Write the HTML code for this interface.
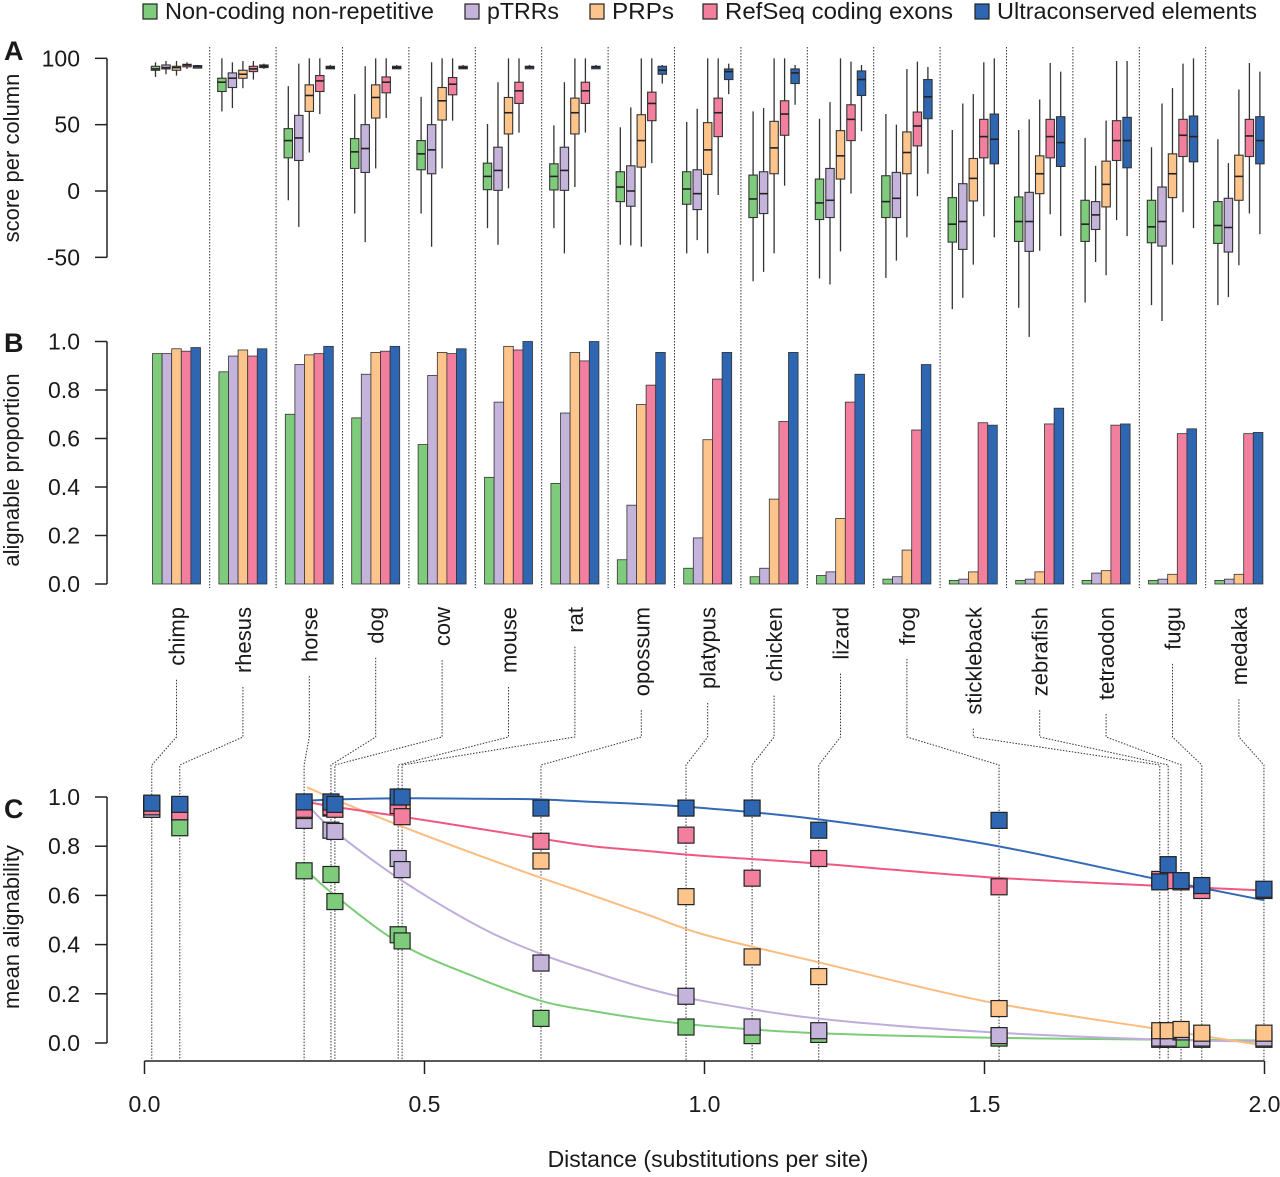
<!DOCTYPE html>
<html><head><meta charset="utf-8"><style>
html,body{margin:0;padding:0;background:#fff}
svg text{font-family:"Liberation Sans",Arial,sans-serif;fill:#1a1a1a}
</style></head><body>
<svg id="chart" width="1280" height="1172" viewBox="0 0 1280 1172" xmlns="http://www.w3.org/2000/svg">
<g id="legend"></g>
<g id="panelA"></g>
<g id="panelB"></g>
<g id="labels"></g>
<g id="panelC"></g>
</svg>
<script>
const species = ["chimp","rhesus","horse","dog","cow","mouse","rat","opossum","platypus","chicken","lizard","frog","stickleback","zebrafish","tetraodon","fugu","medaka"];
const seriesNames = ["Non-coding non-repetitive","pTRRs","PRPs","RefSeq coding exons","Ultraconserved elements"];
const distances = [0.013,0.063,0.285,0.333,0.340,0.453,0.460,0.708,0.967,1.085,1.204,1.526,1.813,1.828,1.851,1.888,1.999];
// Panel A boxes: [whiskerLow, q1, median, q3, whiskerHigh] per species per series
const boxNoncoding = [[86,91,92,94,97],[60,75,82,85,100],[-7,25,38,47,79],[-17,17,29.5,39.5,73],[-17,16,28,38,71],[-28,1,11,21,50.5],[-28,0.8,11,20.5,49.5],[-40.5,-8,3,14.5,48],[-47,-10,1.5,14.5,52],[-68,-20,-6,12,60],[-66,-21.5,-9,9,54.5],[-65.5,-20,-8,11.5,58],[-89,-38.5,-25,-5,46],[-88,-38,-23,-4.5,46],[-84,-38,-25,-7,40],[-86,-39,-27,-7,33],[-86,-39.5,-26,-8,39]];
const boxPTRR = [[88,92,93,95,98],[62.5,78,85,89,97],[-27,23,40,57,96],[-38.5,14,32,50,94],[-42,13,31,50,97],[-40.5,0.5,15.5,33,82],[-47,0.5,15.5,33,82],[-41,-11.5,0,19,63],[-37,-14,-2,16,62],[-61,-17,-2,14.5,62.5],[-70.5,-20,-7,17,67],[-52.5,-20,-5.5,14,50],[-80.5,-44,-23,5.5,66],[-110,-45.5,-23,-1,54],[-53.5,-29,-18,-8,19],[-98,-41.5,-23,3,66],[-80,-46,-27.5,-5.5,21]];
const boxPRP = [[87,91,93,94,98],[77.5,85,88,91,98],[29,60,72,80,100],[17,55,70.5,80,100],[17,53.5,68,78,100],[2,43,59,70.5,100],[3,43,59,70,100],[-42,18,38,57.5,100],[-47,12.5,31,51.5,100],[-47,13,32.5,52.5,100],[-45.5,9,26.5,45.5,100],[-35,13,29,44.5,92],[-55.5,-7.5,9.5,24.5,73],[-45,-2,13,26.5,69],[-63.5,-12,5,22.5,53],[-55.5,-5,13,28,77.5],[-56,-7,11,27,76.5]];
const boxRefSeq = [[92,94,95,95.5,97],[84,90,92,94,98],[58,75,83,87,100],[55,74,82,86,100],[53,72.5,80.5,85.5,100],[44,66,75.5,82,100],[44,66,75.5,82,100],[21,53,66,74.5,100],[-3,41,59,70,100],[4,42,58,68,100],[-2,38,54,65,97.5],[-4,34,49,59.5,97.5],[-19,25,41,54,97],[-17.5,25,41,54,96.5],[-22,23,38,53,98],[-16,26,42,54,96],[-17,26,41.5,54,96.5]];
const boxUCE = [[93,94,94,94.5,95],[92,93,94,95,96],[92,92.5,93,94,95],[92,92.5,93,94,95],[92,92.5,93,94,95],[92,93,93.5,94,95],[92,93,93.5,94,95],[81,88,91,94,95],[73,84,90,92,96],[65,81,89,92,95],[45,72,84,90.5,95],[13,54.5,71,84,93.5],[-35,20.5,39,58,100],[-34,18.5,36.5,56,90],[-34,17.5,38,55.5,98],[-28,22,41,56.5,100],[-32.5,20.5,38,56,90]];
// Panel B / C: alignable proportion per species
const propNoncoding = [0.95,0.875,0.70,0.685,0.575,0.44,0.415,0.10,0.065,0.03,0.035,0.02,0.015,0.015,0.015,0.015,0.015];
const propPTRR = [0.95,0.94,0.905,0.865,0.86,0.75,0.705,0.325,0.19,0.065,0.05,0.03,0.02,0.02,0.045,0.02,0.02];
const propPRP = [0.97,0.965,0.945,0.955,0.955,0.98,0.955,0.74,0.595,0.35,0.27,0.14,0.05,0.05,0.055,0.04,0.04];
const propRefSeq = [0.96,0.94,0.95,0.96,0.95,0.965,0.92,0.82,0.845,0.67,0.75,0.635,0.665,0.66,0.655,0.62,0.62];
const propUCE = [0.975,0.97,0.98,0.98,0.97,1.0,1.0,0.955,0.955,0.955,0.865,0.905,0.655,0.725,0.66,0.64,0.625];
// Panel C fitted curves
const fitX = [0.29,0.34,0.46,0.6,0.71,0.8,0.9,1.0,1.2,1.5,1.8,2.0];
const fitNoncoding = [0.70,0.60,0.40,0.26,0.17,0.13,0.095,0.07,0.04,0.022,0.014,0.01];
const fitPTRR = [0.97,0.86,0.66,0.47,0.36,0.29,0.22,0.17,0.10,0.045,0.015,0.005];
const fitPRP = [1.04,0.99,0.88,0.76,0.67,0.60,0.52,0.44,0.33,0.17,0.06,-0.01];
const fitRefSeq = [0.98,0.96,0.92,0.87,0.83,0.80,0.78,0.76,0.73,0.675,0.64,0.62];
const fitUCE = [0.985,0.99,0.995,0.993,0.99,0.98,0.97,0.955,0.91,0.81,0.67,0.58];
const ticksA = [100,50,0,-50];
const ticksB = ["0.0","0.2","0.4","0.6","0.8","1.0"];
const ticksX = ["0.0","0.5","1.0","1.5","2.0"];

const fills = ["#7fcb7c","#c4b4dc","#fdc48c","#f37f9e","#2f66b2"];
const lineCols = ["#7ccc78","#bfaddb","#fbbc80","#ef5880","#3469b6"];
const NS = "http://www.w3.org/2000/svg";
function mk(tag, attrs, parent){const e=document.createElementNS(NS,tag);for(const k in attrs)e.setAttribute(k,attrs[k]);parent.appendChild(e);return e;}
const svg = document.getElementById('chart');
const gL=document.getElementById('legend'),gA=document.getElementById('panelA'),gB=document.getElementById('panelB'),gLab=document.getElementById('labels'),gC=document.getElementById('panelC');

const groupX = i => 176.5 + 66.4*i;
const yA = v => 191 - v*1.3267;
const yB = v => 584 - v*242.5;
const xC = d => 144.5 + d*560;
const yC = v => 1043 - v*246;
const boxes=[boxNoncoding,boxPTRR,boxPRP,boxRefSeq,boxUCE];
const props=[propNoncoding,propPTRR,propPRP,propRefSeq,propUCE];
const fits=[fitNoncoding,fitPTRR,fitPRP,fitRefSeq,fitUCE];

// Legend
const legX=[143,465,590,703,975];
const legW=[269,72,62,228,260];
seriesNames.forEach((n,s)=>{
  const g=mk('g',{},gL);
  
  
  mk('rect',{x:legX[s],y:4,width:14,height:15,fill:fills[s],stroke:'#222','stroke-width':1.2},g);
  const t=mk('text',{x:legX[s]+22,y:19,'font-size':23,textLength:legW[s],lengthAdjust:'spacingAndGlyphs'},g);t.textContent=n;
});

// Panel letters and titles
[['A',4,60],['B',4,352],['C',4,818]].forEach(([l,x,y])=>{const t=mk('text',{x:x,y:y,'font-size':27,'font-weight':'bold'},svg);t.textContent=l;

});
[['score per column',158],['alignable proportion',470],['mean alignability',927]].forEach(([l,y])=>{const t=mk('text',{x:0,y:0,'font-size':22,'text-anchor':'middle',transform:`translate(19,${y}) rotate(-90)`},svg);t.textContent=l;

});

// Separators
for(let k=0;k<16;k++){const x=groupX(k)+33.2;const l=mk('line',{x1:x,x2:x,y1:47,y2:588,stroke:'#333','stroke-width':1,'stroke-dasharray':'1.5,1.5'},gA);

}

// Axis A
mk('line',{x1:107,x2:107,y1:yA(100),y2:yA(-50),stroke:'#222','stroke-width':1.5},gA);
ticksA.forEach(v=>{mk('line',{x1:95,x2:107,y1:yA(v),y2:yA(v),stroke:'#222','stroke-width':1.5},gA);
const t=mk('text',{x:80,y:yA(v)+8,'font-size':23,'text-anchor':'end'},gA);t.textContent=v;

});
const offs=[-21,-10.5,0,10.5,21];
species.forEach((sp,i)=>{
  for(let s=0;s<5;s++){
    const b=boxes[s][i];const cx=groupX(i)+offs[s];
    const g=mk('g',{},gA);
    
    
    mk('line',{x1:cx,x2:cx,y1:yA(b[4]),y2:yA(b[0]),stroke:'#333','stroke-width':1.3},g);
    const h=Math.max(yA(b[1])-yA(b[3]),2.5);
    mk('rect',{x:cx-4.2,y:yA(b[3]),width:8.4,height:h,fill:fills[s],stroke:'#333','stroke-width':1.1},g);
    mk('line',{x1:cx-4.2,x2:cx+4.2,y1:yA(b[2]),y2:yA(b[2]),stroke:'#222','stroke-width':1.6},g);
  }
});

// Axis B
mk('line',{x1:107,x2:107,y1:yB(1),y2:yB(0),stroke:'#222','stroke-width':1.5},gB);
ticksB.forEach(v=>{mk('line',{x1:95,x2:107,y1:yB(+v),y2:yB(+v),stroke:'#222','stroke-width':1.5},gB);
const t=mk('text',{x:80,y:yB(+v)+8,'font-size':23,'text-anchor':'end'},gB);t.textContent=v;

});
species.forEach((sp,i)=>{
  for(let s=0;s<5;s++){
    const v=props[s][i];const x=groupX(i)-24+9.6*s;
    const r=mk('rect',{x:x,y:yB(v),width:9.6,height:yB(0)-yB(v),fill:fills[s],stroke:'#333','stroke-width':0.8},gB);
    
    
  }
});

// Species labels and connectors
species.forEach((sp,i)=>{
  const cx=groupX(i);
  const t=mk('text',{x:0,y:0,'font-size':22,'text-anchor':'end',transform:`translate(${cx+8},607) rotate(-90)`},gLab);
  t.textContent=sp;
  
  
  let len=t.getComputedTextLength?t.getComputedTextLength():sp.length*11;
  const y0=607+len+14;
  const tx=xC(distances[i]);
  const p=mk('path',{d:`M${cx},${Math.min(y0,730)} L${cx},737 L${tx},765 L${tx},1060`,fill:'none',stroke:'#333','stroke-width':1,'stroke-dasharray':'1.5,1.5'},gLab);
  
  
});

// Axis C
mk('line',{x1:107,x2:107,y1:yC(1),y2:yC(0),stroke:'#222','stroke-width':1.5},gC);
ticksB.forEach(v=>{mk('line',{x1:95,x2:107,y1:yC(+v),y2:yC(+v),stroke:'#222','stroke-width':1.5},gC);
const t=mk('text',{x:80,y:yC(+v)+8,'font-size':23,'text-anchor':'end'},gC);t.textContent=v;

});
mk('line',{x1:xC(0),x2:xC(2),y1:1061,y2:1061,stroke:'#222','stroke-width':1.5},gC);
ticksX.forEach(v=>{mk('line',{x1:xC(+v),x2:xC(+v),y1:1061,y2:1074,stroke:'#222','stroke-width':1.5},gC);
const t=mk('text',{x:xC(+v),y:1112,'font-size':23,'text-anchor':'middle'},gC);t.textContent=v;

});
const xt=mk('text',{x:708,y:1167,'font-size':23,'text-anchor':'middle'},gC);xt.textContent='Distance (substitutions per site)';



// Fitted curves (Catmull-Rom)
function smooth(xs,ys){const P=xs.map((x,k)=>[xC(x),yC(ys[k])]);let d=`M${P[0][0]},${P[0][1]}`;
for(let k=0;k<P.length-1;k++){const p0=P[Math.max(k-1,0)],p1=P[k],p2=P[k+1],p3=P[Math.min(k+2,P.length-1)];
d+=` C${p1[0]+(p2[0]-p0[0])/6},${p1[1]+(p2[1]-p0[1])/6} ${p2[0]-(p3[0]-p1[0])/6},${p2[1]-(p3[1]-p1[1])/6} ${p2[0]},${p2[1]}`;}return d;}
for(let s=0;s<5;s++){const p=mk('path',{d:smooth(fitX,fits[s]),fill:'none',stroke:lineCols[s],'stroke-width':2},gC);

}
// Points
for(let s=0;s<5;s++){species.forEach((sp,i)=>{
  const r=mk('rect',{x:xC(distances[i])-8,y:yC(props[s][i])-8,width:16,height:16,fill:fills[s],stroke:'#222','stroke-width':1.2},gC);
  
  
});}
</script>
</body></html>
